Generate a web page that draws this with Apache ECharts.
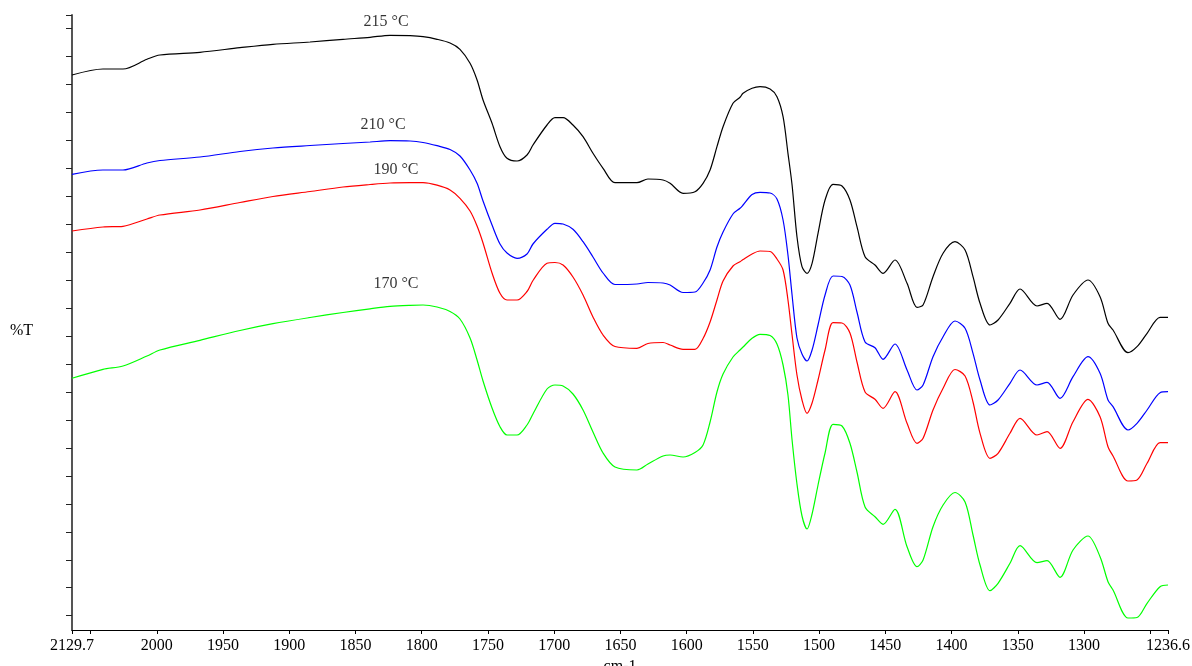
<!DOCTYPE html>
<html>
<head>
<meta charset="utf-8">
<script src="https://cdn.jsdelivr.net/npm/echarts@6/dist/echarts.min.js"></script>
<style>
html,body{margin:0;padding:0;background:#fff;}
#chart{width:1192px;height:666px;}
</style>
</head>
<body>
<div id="chart"></div>
<script>
// Wavenumbers (cm-1) shared by all spectra
const wavenumbers = [2064,2040.6,2025.5,2007.4,1997.6,1967.4,1937.2,1912.3,1884.3,1859.4,1839.0,1823.9,1808.8,1799.0,1788.4,1778.6,1771.1,1763.5,1758.2,1753.7,1746.9,1740.9,1735.6,1728.0,1720.5,1716.0,1705.4,1699.4,1693.3,1685.8,1678.2,1670.7,1663.1,1654.1,1637.5,1629.2,1617.8,1612.5,1602.7,1593.7,1587.6,1582.3,1577.1,1572.5,1565.0,1559.7,1557.4,1550.6,1544.6,1537.0,1531.8,1527.2,1523.5,1520.4,1516.7,1512.9,1509.1,1505.3,1500.8,1495.5,1489.5,1482.7,1476.7,1471.4,1465.3,1457.8,1451.7,1442.7,1433.6,1426.1,1421.5,1414.0,1406.4,1397.4,1389.8,1383.8,1378.5,1371.0,1364.9,1355.9,1348.3,1335.5,1327.9,1318.1,1308.3,1297.0,1287.9,1281.9,1278.1,1266.8,1260.0,1252.4,1242.6,1236.6];

// %T (offset spectra)
const t215 = [55.5,56.1,56.1,57.07,57.5,57.77,58.23,58.57,58.8,59.07,59.27,59.47,59.43,59.33,59.07,58.7,58.07,56.67,55.0,53.0,50.67,48.33,47.17,46.9,47.5,48.5,50.5,51.23,51.23,50.5,49.33,47.67,46.17,44.73,44.73,45.1,45.0,44.67,43.67,43.83,44.67,46.0,48.33,50.33,52.67,53.27,53.67,54.17,54.33,54.1,53.33,51.33,47.67,44.5,39.33,36.33,35.67,36.67,39.67,43.0,44.57,44.4,43.0,40.33,37.33,36.5,35.67,37.0,34.67,32.27,32.5,35.33,37.67,38.83,38.0,35.33,32.67,30.5,31.0,32.67,34.1,32.4,32.67,31.07,33.5,35.0,33.33,30.67,30.0,27.73,28.33,29.67,31.27,31.27];
const t210 = [45.57,46.0,46.0,46.7,46.95,47.3,47.85,48.2,48.45,48.65,48.8,48.93,48.9,48.75,48.43,48.05,47.4,46.0,44.67,42.9,40.5,38.6,37.7,37.17,37.6,38.6,40.07,40.67,40.6,40.07,38.83,37.3,35.7,34.55,34.6,34.75,34.7,34.5,33.75,33.8,34.7,36.0,38.3,39.8,41.6,42.17,42.5,43.55,43.77,43.7,43.1,41.0,37.5,33.5,29.2,27.6,26.9,28.0,30.5,33.5,35.4,35.35,34.5,31.8,28.8,28.23,27.07,28.6,26.0,24.0,24.5,27.33,29.33,30.9,30.17,27.67,25.0,22.5,23.0,24.67,26.0,24.5,24.77,23.17,25.33,27.33,25.67,23.0,22.33,20.0,20.67,22.0,23.73,23.83];
const t190 = [39.9,40.3,40.37,41.1,41.5,42.0,42.75,43.35,43.85,44.3,44.55,44.7,44.73,44.73,44.48,44.0,43.17,41.9,40.4,38.7,35.7,33.67,33.0,33.0,33.85,34.95,36.67,36.75,36.5,35.3,33.5,31.3,29.5,28.35,28.17,28.65,28.75,28.5,28.07,28.07,29.15,30.8,33.0,34.9,36.4,36.83,37.05,37.6,37.9,37.85,37.1,36.0,33.0,29.5,25.5,23.0,21.67,22.7,25.0,28.0,30.73,30.7,29.7,26.8,23.8,23.07,22.17,23.83,20.67,18.67,19.17,22.0,24.17,26.05,25.4,22.8,19.67,17.17,17.67,19.67,21.17,19.5,19.83,18.17,20.83,23.07,21.33,18.33,17.4,14.9,15.0,16.67,18.73,18.73];
const t170 = [25.17,26.07,26.4,27.4,28.0,28.97,29.95,30.63,31.25,31.75,32.12,32.36,32.47,32.5,32.3,31.85,31.1,29.2,27.0,24.9,22.2,20.33,19.5,19.5,20.5,21.6,24.1,24.5,24.4,23.6,22.0,19.8,17.7,16.3,16.0,16.6,17.4,17.5,17.3,17.75,18.5,20.8,23.8,25.6,27.3,28.0,28.3,29.17,29.57,29.45,28.6,26.5,23.5,19.0,14.6,11.4,10.1,11.6,14.5,17.7,20.57,20.4,18.67,15.8,12.3,11.33,10.57,12.07,8.33,6.33,7.0,10.33,12.5,13.75,12.8,9.5,6.5,3.93,4.67,6.67,8.43,6.73,6.93,5.27,8.0,9.4,7.33,4.83,4.0,1.2,1.25,2.67,4.33,4.5];

const seriesNames = ['215 °C','210 °C','190 °C','170 °C'];
const seriesColors = ['#000000','#0000ff','#ff0000','#00ff00'];
const seriesValues = [t215, t210, t190, t170];
// label anchor positions [wavenumber, %T]
const labelWavenumbers = [1826.9, 1829.2, 1819.4, 1819.4];
const labelT = [60.83, 50.57, 46.0, 34.6];

// axis ticks / labels
const xTickValues = [2064,2050,2000,1950,1900,1850,1800,1750,1700,1650,1600,1550,1500,1450,1400,1350,1300,1250,1236.6];
const xLabelValues = [2064,2000,1950,1900,1850,1800,1750,1700,1650,1600,1550,1500,1450,1400,1350,1300,1236.6];
const xLabelTexts = ['2129.7','2000','1950','1900','1850','1800','1750','1700','1650','1600','1550','1500','1450','1400','1350','1300','1236.6'];
const yTickValues = [1.43,4.227,7.024,9.821,12.618,15.415,18.212,21.009,23.806,26.603,29.4,32.197,34.994,37.791,40.588,43.385,46.182,48.979,51.776,54.573,57.37,60.167,61.5];

const FONT = 'Liberation Serif';

const series = seriesValues.map((vals, i) => ({
  type: 'line',
  name: seriesNames[i],
  data: wavenumbers.map((w, j) => [w, vals[j]]),
  showSymbol: false,
  symbol: 'none',
  smooth: 0.3,
  lineStyle: { color: seriesColors[i], width: 1.2 },
  silent: true,
  z: 3
}));
series.push({
  type: 'scatter',
  data: seriesNames.map((n, i) => [labelWavenumbers[i], labelT[i], n]),
  symbolSize: 1,
  itemStyle: { color: 'rgba(0,0,0,0)' },
  label: {
    show: true, position: 'inside',
    formatter: p => p.value[2],
    fontFamily: FONT, fontSize: 16, color: '#000'
  },
  silent: true,
  z: 4
});

const chart = echarts.init(document.getElementById('chart'), null, { renderer: 'canvas' });
chart.setOption({
  animation: false,
  backgroundColor: '#fff',
  grid: { left: 72, right: 24, top: 15, bottom: 36, containLabel: false, outerBoundsMode: 'none' },
  xAxis: {
    type: 'value',
    inverse: true,
    min: 1236.6,
    max: 2064,
    name: 'cm-1',
    nameLocation: 'middle',
    nameGap: 25,
    nameTextStyle: { fontFamily: FONT, fontSize: 16, color: '#000' },
    axisLine: { show: true, onZero: false, lineStyle: { color: '#000', width: 1.2 } },
    axisTick: { show: true, length: 4, inside: false, customValues: xTickValues, lineStyle: { color: '#000' } },
    axisLabel: {
      show: true, margin: 8, customValues: xLabelValues,
      fontFamily: FONT, fontSize: 16, color: '#000',
      formatter: v => {
        let best = 0, bd = Infinity;
        xLabelValues.forEach((x, k) => { const d = Math.abs(x - v); if (d < bd) { bd = d; best = k; } });
        return xLabelTexts[best];
      }
    },
    splitLine: { show: false }
  },
  yAxis: {
    type: 'value',
    min: 0,
    max: 61.5,
    name: '%T',
    nameLocation: 'middle',
    nameRotate: 0,
    nameGap: 39,
    nameTextStyle: { fontFamily: FONT, fontSize: 16, color: '#000', verticalAlign: 'top' },
    axisLine: { show: true, onZero: false, lineStyle: { color: '#555', width: 2 } },
    axisTick: { show: true, length: 6, inside: false, customValues: yTickValues, lineStyle: { color: '#222' } },
    axisLabel: { show: false },
    splitLine: { show: false }
  },
  series: series
});
</script>
</body>
</html>
